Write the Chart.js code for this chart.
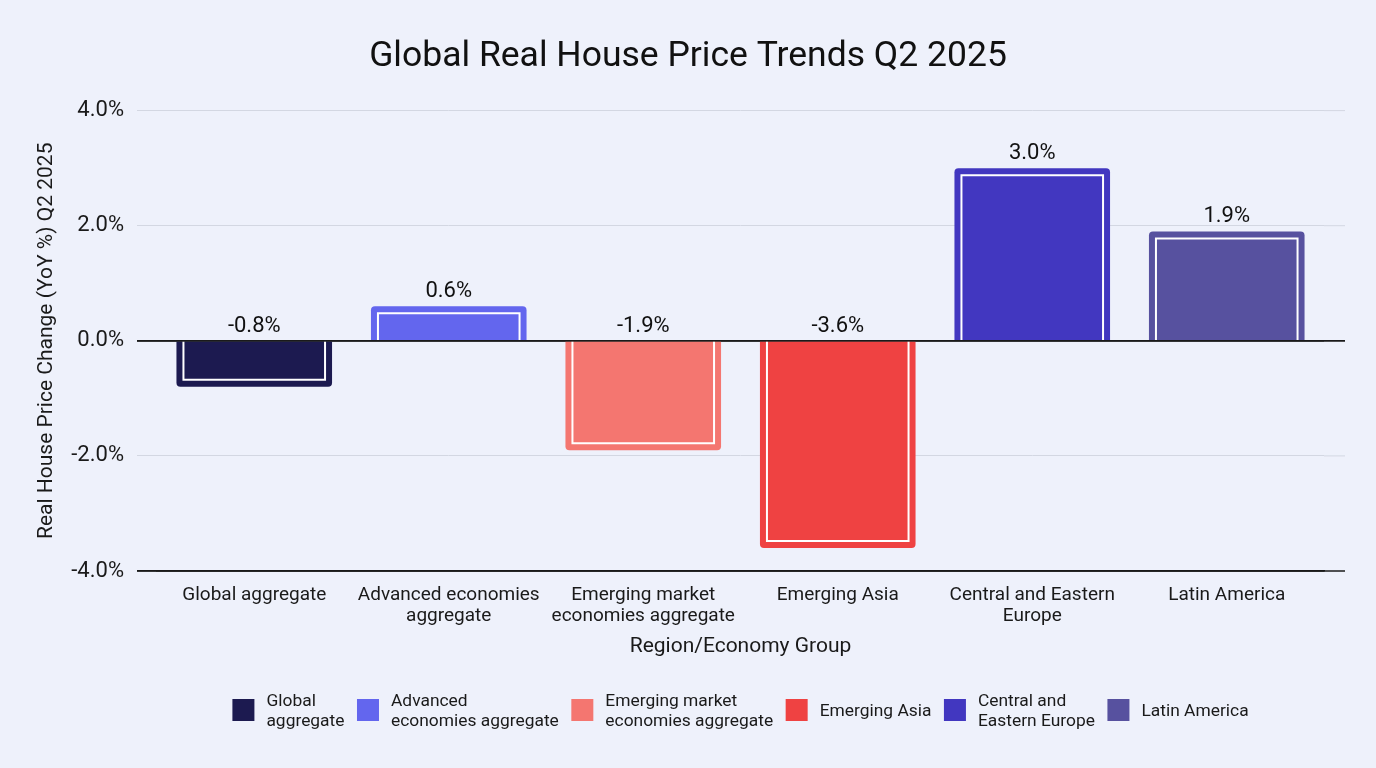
<!DOCTYPE html>
<html>
<head>
<meta charset="utf-8">
<script src="https://cdn.jsdelivr.net/npm/chart.js@4.4.1/dist/chart.umd.min.js"></script>
<style>
  html, body { margin: 0; padding: 0; background: #eef1fb; }
  canvas { display: block; }
</style>
</head>
<body>
<canvas id="c" width="1376" height="768"></canvas>
<script>
const categories = [
  "Global aggregate",
  ["Advanced economies", "aggregate"],
  ["Emerging market", "economies aggregate"],
  "Emerging Asia",
  ["Central and Eastern", "Europe"],
  "Latin America"
];
const legendLabels = [
  ["Global", "aggregate"],
  ["Advanced", "economies aggregate"],
  ["Emerging market", "economies aggregate"],
  ["Emerging Asia"],
  ["Central and", "Eastern Europe"],
  ["Latin America"]
];
const values = [-0.8, 0.6, -1.9, -3.6, 3.0, 1.9];
const barColors = ["#1c1a50", "#6366ee", "#f47670", "#ef4242", "#4237c0", "#57519f"];
const yTicks = { min: -4, max: 4, step: 2 };

const GRID_LIGHT = "#d3d7e2";
const GRID_DARK = "#1a1a1a";
const isDarkTick = (v) => v === 0 || v === yTicks.min;

const extras = {
  id: "extras",
  beforeDatasetsDraw(chart) {
    const ctx = chart.ctx, ys = chart.scales.y, a = chart.chartArea;
    ctx.save();
    ys.ticks.forEach((t) => {
      const y = ys.getPixelForValue(t.value);
      ctx.strokeStyle = isDarkTick(t.value) ? GRID_DARK : GRID_LIGHT;
      ctx.lineWidth = isDarkTick(t.value) ? 1.5 : 1;
      ctx.beginPath();
      ctx.moveTo(isDarkTick(t.value) ? a.left - 20 : a.right, y);
      ctx.lineTo(a.right + 21, y);
      ctx.stroke();
    });
    ctx.restore();
  },
  afterDatasetsDraw(chart) {
    const ctx = chart.ctx;
    const meta = chart.getDatasetMeta(0);
    ctx.save();
    ctx.strokeStyle = "#ffffff";
    ctx.lineWidth = 2;
    meta.data.forEach((el) => {
      const p = el.getProps(["x", "y", "base", "width"], true);
      const inset = 7;
      const left = p.x - p.width / 2 + inset;
      const right = p.x + p.width / 2 - inset;
      const dir = p.y < p.base ? 1 : -1;
      const far = p.y + dir * inset;
      ctx.beginPath();
      ctx.moveTo(left, p.base);
      ctx.lineTo(left, far);
      ctx.lineTo(right, far);
      ctx.lineTo(right, p.base);
      ctx.stroke();
    });
    const ys = chart.scales.y, a = chart.chartArea;
    const y0 = ys.getPixelForValue(0);
    ctx.strokeStyle = GRID_DARK;
    ctx.lineWidth = 1.5;
    ctx.beginPath();
    ctx.moveTo(a.left - 20, y0);
    ctx.lineTo(a.right + 21, y0);
    ctx.stroke();
    ctx.fillStyle = "#111111";
    ctx.font = "22px Roboto";
    ctx.textAlign = "center";
    ctx.textBaseline = "bottom";
    meta.data.forEach((el, i) => {
      const p = el.getProps(["x", "y", "base"], true);
      const top = Math.min(p.y, p.base);
      const v = chart.data.datasets[0].data[i];
      ctx.fillText(v.toFixed(1) + "%", p.x, top - 4);
    });
    ctx.restore();
  },
  afterDraw(chart) {
    const ctx = chart.ctx, a = chart.chartArea;
    const box = 22, gapBox = 12, gapItem = 12.5, lineH = 20;
    ctx.save();
    ctx.font = "17.4px Roboto";
    const items = legendLabels.map((lines, i) => {
      const w = Math.max(...lines.map((l) => ctx.measureText(l).width));
      return { lines, w, color: barColors[i] };
    });
    const total = items.reduce((s, it) => s + box + gapBox + it.w, 0) + gapItem * (items.length - 1);
    let x = (a.left + a.right) / 2 - total / 2;
    const cy = chart.height - 58;
    ctx.textAlign = "left";
    ctx.textBaseline = "middle";
    items.forEach((it) => {
      ctx.fillStyle = it.color;
      ctx.fillRect(x, cy - box / 2, box, box);
      ctx.fillStyle = "#1a1a1a";
      const n = it.lines.length;
      it.lines.forEach((l, k) => {
        ctx.fillText(l, x + box + gapBox, cy + 2 + (k - (n - 1) / 2) * lineH);
      });
      x += box + gapBox + it.w + gapItem;
    });
    ctx.restore();
  }
};

function build() {
  Chart.defaults.font.family = "Roboto";
  Chart.defaults.color = "#1a1a1a";
  new Chart(document.getElementById("c"), {
    type: "bar",
    data: {
      labels: categories,
      datasets: [{
        label: "Real House Price Change (YoY %) Q2 2025",
        data: values,
        backgroundColor: barColors,
        borderWidth: 0,
        borderRadius: 4,
        barPercentage: 0.8,
        categoryPercentage: 1.0
      }]
    },
    options: {
      responsive: false,
      animation: false,
      layout: { padding: { left: 52, right: 52, top: 0, bottom: 109 } },
      plugins: {
        title: {
          display: true,
          text: "Global Real House Price Trends Q2 2025",
          font: { size: 35.5, weight: "normal" },
          color: "#111111",
          padding: { top: 36, bottom: 32 }
        },
        legend: { display: false },
        tooltip: { enabled: false }
      },
      scales: {
        x: {
          afterFit: (s) => { s.height = 88; },
          grid: { display: false, drawTicks: false },
          border: { display: true, color: GRID_DARK, width: 1.5 },
          ticks: { font: { size: 19, lineHeight: 1.1 }, color: "#1a1a1a", padding: 14, maxRotation: 0, autoSkip: false },
          title: {
            display: true,
            text: "Region/Economy Group",
            font: { size: 21 },
            color: "#1a1a1a",
            padding: { top: 0, bottom: 0 }
          }
        },
        y: {
          min: yTicks.min,
          max: yTicks.max,
          afterFit: (s) => { s.width = 105; },
          border: { display: false },
          grid: {
            color: (c) => (c.tick && isDarkTick(c.tick.value)) ? GRID_DARK : GRID_LIGHT,
            lineWidth: (c) => (c.tick && isDarkTick(c.tick.value)) ? 1.5 : 1,
            tickLength: 20
          },
          ticks: {
            stepSize: yTicks.step,
            font: { size: 22 },
            color: "#1a1a1a",
            padding: 13,
            callback: (v) => v.toFixed(1) + "%"
          },
          title: {
            display: true,
            text: "Real House Price Change (YoY %) Q2 2025",
            font: { size: 21 },
            color: "#1a1a1a",
            padding: { top: -17.6, bottom: 0 }
          }
        }
      }
    },
    plugins: [extras]
  });
}
if (document.fonts && document.fonts.load) {
  Promise.all([document.fonts.load("20px Roboto"), document.fonts.load("34px Roboto")]).then(build, build);
} else {
  build();
}
</script>
</body>
</html>
